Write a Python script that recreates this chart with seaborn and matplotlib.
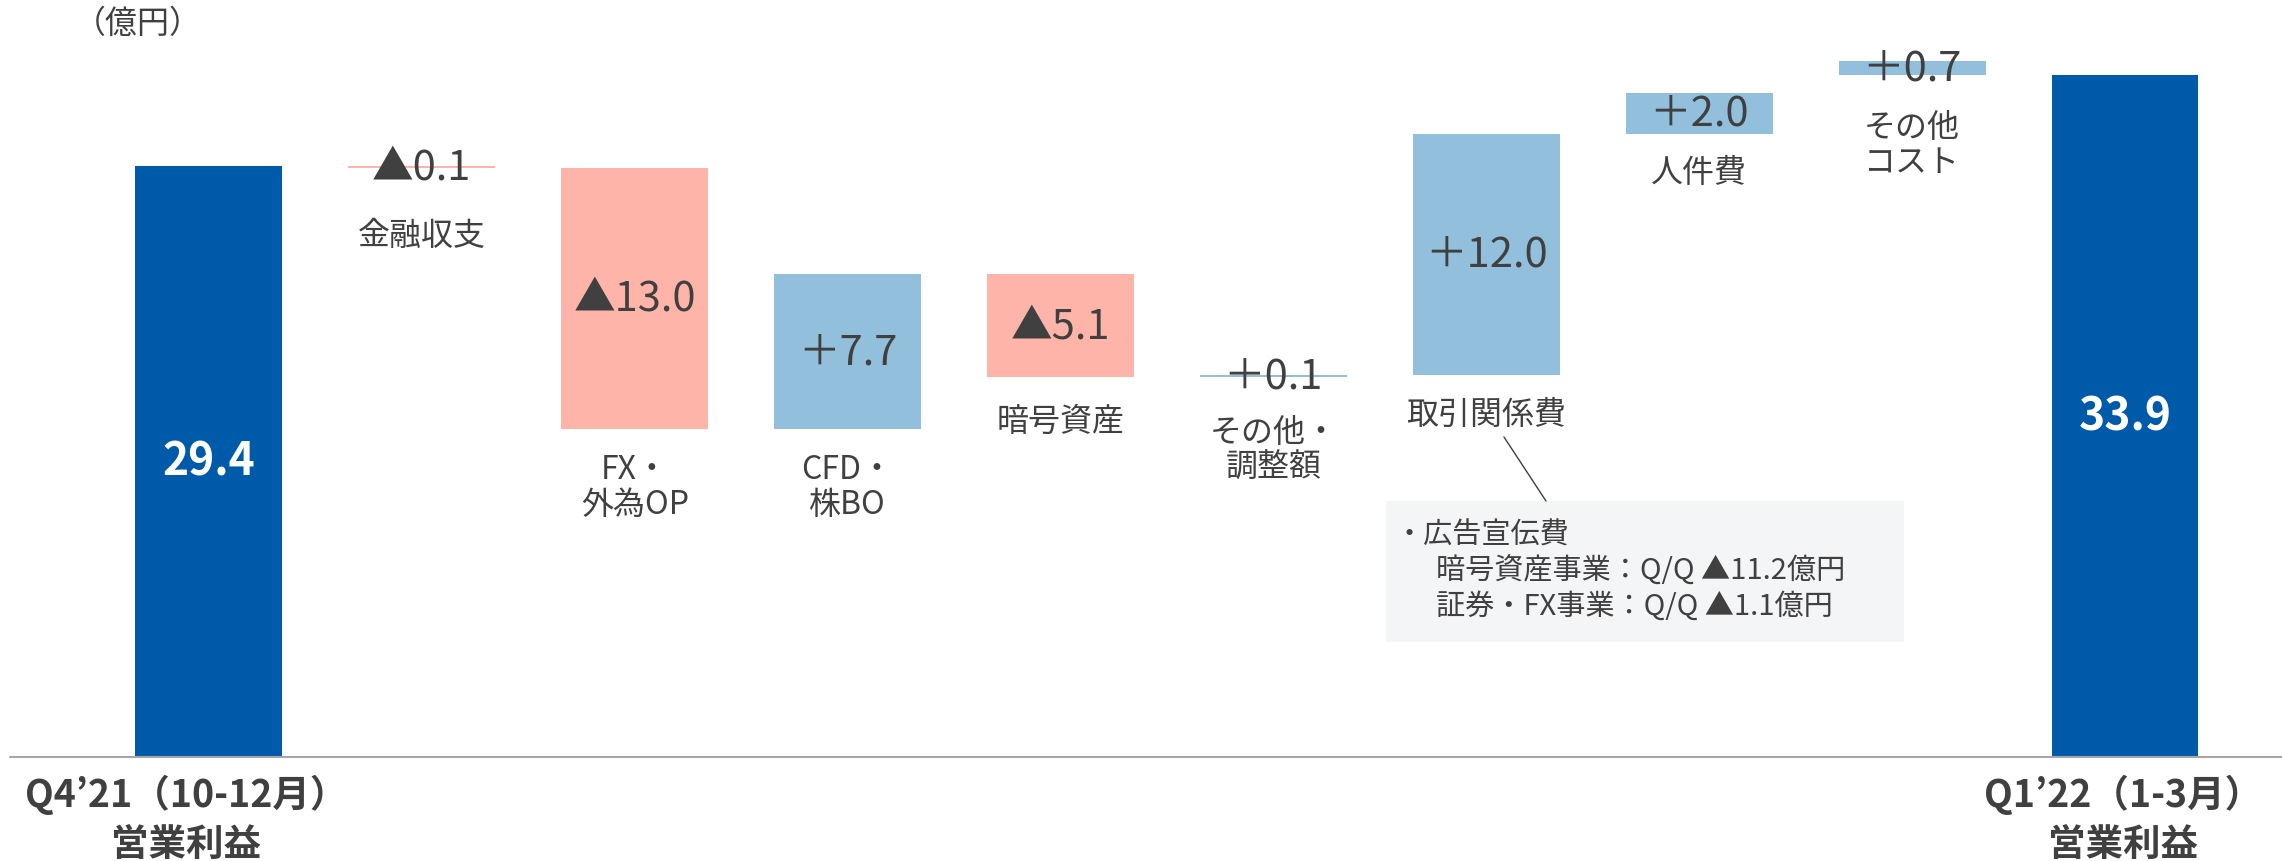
import numpy as np
import pandas as pd
import seaborn as sns
from matplotlib import pyplot as plt
from matplotlib.patches import Rectangle

# データ（億円）
categories = ["Q4’21（10-12月）\n営業利益", "金融収支", "FX・\n外為OP", "CFD・\n株BO", "暗号資産",
              "その他・\n調整額", "取引関係費", "人件費", "その他\nコスト", "Q1’22（1-3月）\n営業利益"]
deltas = [29.4, -0.1, -13.0, 7.7, -5.1, 0.1, 12.0, 2.0, 0.7, 33.9]
bar_bottoms = [0.0, 29.3, 16.3, 16.3, 18.9, 18.9, 19.0, 31.0, 33.9, 0.0]
kinds = ["total", "down", "down", "up", "down", "up", "up", "up", "up", "total"]
note_lines = ["・広告宣伝費", "暗号資産事業：Q/Q ▲11.2億円", "証券・FX事業：Q/Q ▲1.1億円"]
unit_label = "（億円）"

colors = {"total": "#005AAA", "up": "#91BFDC", "down": "#FFB4AA"}
text_color = "#404040"

sns.set_theme(style="white")
plt.rcParams['font.family'] = ['Noto Sans CJK JP', 'DejaVu Sans']

df = pd.DataFrame({"category": categories, "height": np.abs(deltas),
                   "bottom": bar_bottoms, "kind": kinds})

W, H = 2282, 862
fig = plt.figure(figsize=(W / 100, H / 100), dpi=100)
ax = fig.add_axes([0, 0, 1, 1])


# ピクセル位置 -> データ座標
def px_x(px):
    return (px - 208.9) / 212.9


def px_y(py):
    return (758 - py) / 20.11


sns.barplot(data=df, x="category", y="height", bottom=df["bottom"].values,
            width=0.69, color=colors["up"], linewidth=0, ax=ax)
for patch, k in zip(ax.patches, df["kind"]):
    patch.set_facecolor(colors[k])
    patch.set_edgecolor("none")

ax.set_xlim(px_x(0), px_x(W))
ax.set_ylim(px_y(H), px_y(0))
ax.axis("off")

# 基準線
ax.plot([px_x(10), px_x(W)], [0, 0], color="#A6A6A6", lw=1.5, zorder=5)

# 値ラベル・項目ラベル
label_gap = [None, 2.55, 1.2, 1.2, 1.4, 1.95, 1.15, 1.1, 1.8, None]
bottom_label_x = {0: 186, 9: 2123}
for i, row in df.iterrows():
    mid = row["bottom"] + row["height"] / 2
    v = deltas[i]
    if row["kind"] == "total":
        ax.text(i, mid, "%.1f" % v, ha="center", va="center", color="white",
                fontsize=32, fontweight="bold", zorder=6)
        line1, line2 = row["category"].split("\n")
        bx = px_x(bottom_label_x[i])
        ax.text(bx, px_y(795), line1, ha="center", va="center", color=text_color,
                fontsize=27, fontweight="bold")
        ax.text(bx, px_y(844), line2, ha="center", va="center", color=text_color,
                fontsize=27, fontweight="bold")
    else:
        s = ("▲" if v < 0 else "＋") + "%.1f" % abs(v)
        ax.text(i, mid, s, ha="center", va="center", color=text_color,
                fontsize=30, zorder=6)
        ax.text(i, row["bottom"] - label_gap[i], row["category"], ha="center", va="top",
                color=text_color, fontsize=23, linespacing=1.1)

# 単位
ax.text(px_x(138), px_y(24), unit_label, ha="center", va="center",
        color=text_color, fontsize=23)

# 注記ボックス
ax.add_patch(Rectangle((px_x(1386), px_y(643)), px_x(1904) - px_x(1386),
                       px_y(502) - px_y(643), facecolor="#F4F5F7", edgecolor="none", zorder=1))
ax.plot([px_x(1504), px_x(1546)], [px_y(438), px_y(502)], color=text_color, lw=1, zorder=2)
ax.text(px_x(1394), px_y(536), note_lines[0], ha="left", va="center",
        color=text_color, fontsize=21, zorder=3)
ax.text(px_x(1436), px_y(572), note_lines[1], ha="left", va="center",
        color=text_color, fontsize=21, zorder=3)
ax.text(px_x(1436), px_y(607), note_lines[2], ha="left", va="center",
        color=text_color, fontsize=21, zorder=3)

plt.savefig("out.png", dpi=100)
plt.close()
